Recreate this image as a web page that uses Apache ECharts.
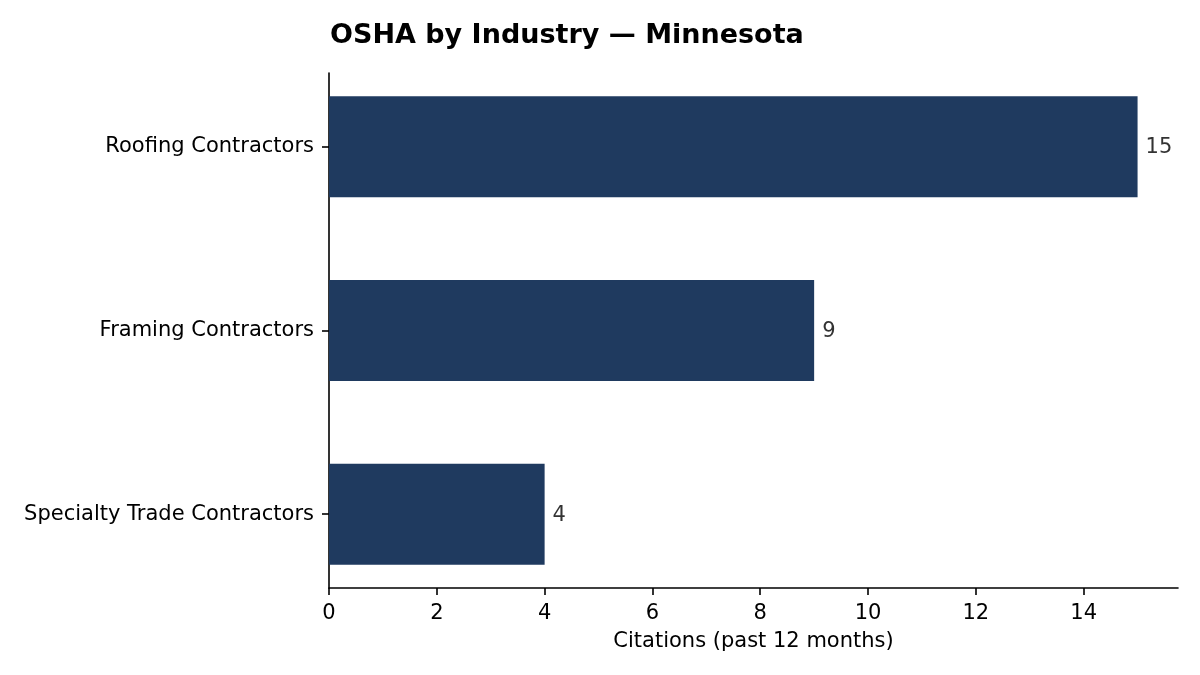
<!DOCTYPE html>
<html>
<head>
<meta charset="utf-8">
<script src="https://cdn.jsdelivr.net/npm/echarts@6/dist/echarts.min.js"></script>
<style>
  html, body { margin: 0; padding: 0; background: #fff; }
  #main { width: 1200px; height: 675px; }
</style>
</head>
<body>
<div id="main"></div>
<script>
// data
const industries = ['Roofing Contractors', 'Framing Contractors', 'Specialty Trade Contractors'];
const citations = [15, 9, 4];
const xTicks = [0, 2, 4, 6, 8, 10, 12, 14];
const xMax = 15.75;

const font = 'DejaVu Sans';
const chart = echarts.init(document.getElementById('main'));

chart.setOption({
  animation: false,
  backgroundColor: '#ffffff',
  title: {
    text: 'OSHA by Industry — Minnesota',
    left: 325,
    top: 17,
    textStyle: { fontFamily: font, fontSize: 27, fontWeight: 'bold', color: '#000' }
  },
  // grid 0 holds the visible frame, grid 1 places the bars like matplotlib's margins
  grid: [
    { left: 329, right: 22, top: 73, bottom: 87 },
    { left: 329, right: 22, top: 55, bottom: 69 }
  ],
  xAxis: [
    {
      gridIndex: 0,
      type: 'value',
      min: 0,
      max: xMax,
      name: 'Citations (past 12 months)',
      nameLocation: 'middle',
      nameGap: 43,
      nameTextStyle: { fontFamily: font, fontSize: 21, color: '#000' },
      axisLine: { show: true, lineStyle: { color: '#000', width: 1.6 } },
      axisTick: { show: true, length: 7, lineStyle: { color: '#000', width: 1.6 }, customValues: xTicks },
      axisLabel: { fontFamily: font, fontSize: 21, color: '#000', margin: 15, customValues: xTicks },
      splitLine: { show: false }
    },
    {
      gridIndex: 1,
      type: 'value',
      min: 0,
      max: xMax,
      show: false
    }
  ],
  yAxis: [
    {
      gridIndex: 0,
      type: 'value',
      axisLine: { show: true, lineStyle: { color: '#000', width: 1.6 } },
      axisTick: { show: false },
      axisLabel: { show: false },
      splitLine: { show: false }
    },
    {
      gridIndex: 1,
      type: 'category',
      data: industries,
      inverse: true,
      axisLine: { show: false },
      axisTick: { show: true, alignWithLabel: true, length: 7, lineStyle: { color: '#000', width: 1.6 } },
      axisLabel: { fontFamily: font, fontSize: 21, color: '#000', margin: 15, padding: [3, 0, 0, 0] }
    }
  ],
  series: [
    {
      type: 'bar',
      xAxisIndex: 1,
      yAxisIndex: 1,
      data: citations,
      barWidth: '55%',
      itemStyle: { color: '#1f3a5f' },
      label: {
        show: true,
        position: 'right',
        distance: 8,
        offset: [0, 1],
        fontFamily: font,
        fontSize: 21,
        color: '#333'
      }
    }
  ]
});
</script>
</body>
</html>
